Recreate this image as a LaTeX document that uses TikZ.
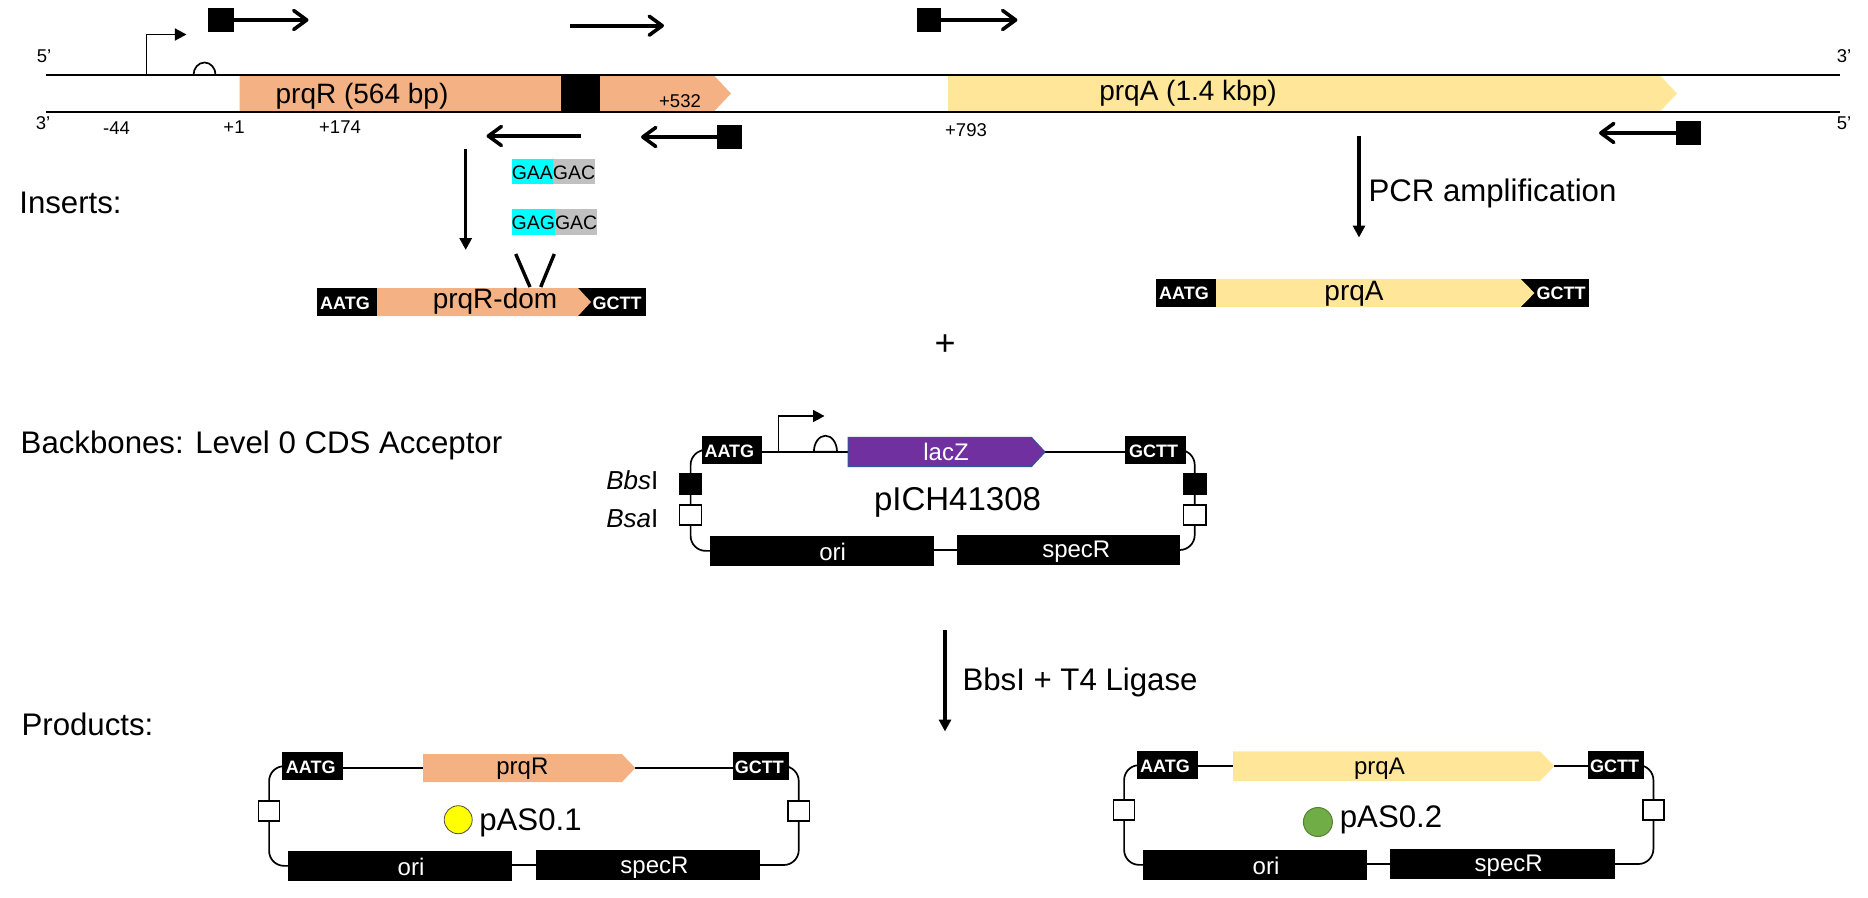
\documentclass[tikz,border=0pt]{standalone}
\usepackage{fontspec}
\setmainfont{Liberation Sans}
\usetikzlibrary{arrows.meta,backgrounds}
\newcommand\fsz[1]{\fontsize{#1}{#1}\selectfont}
\definecolor{orangeg}{HTML}{F4B183}
\definecolor{yellowg}{HTML}{FFE699}
\definecolor{purpleg}{HTML}{7030A0}
\definecolor{blueedge}{HTML}{2F5597}
\definecolor{greenc}{HTML}{70AD47}
\definecolor{greend}{HTML}{548235}
\definecolor{grayb}{HTML}{C0C0C0}
\definecolor{cyanb}{HTML}{00FFFF}
\definecolor{yellowc}{HTML}{FFFF00}
\tikzset{
  base/.style={inner sep=0pt,outer sep=0pt,text=black},
  blackbox/.style={base,fill=black},
  whitesq/.style={base,fill=white,draw=black,line width=1.5pt},
  cyanbox/.style={base,fill=cyanb},
  graybox/.style={base,fill=grayb},
  num/.style={base,font=\fsz{18.5}},
  big/.style={base,font=\fsz{31.2}},
  genetxt/.style={base,font=\fsz{28}},
  small/.style={base,font=\fsz{24}},
  wtxt/.style={base,font=\fsz{24},text=white},
  site/.style={base,font=\bfseries\fsz{18},text=white},
  strand/.style={line width=2pt},
  wire/.style={line width=1.7pt},
  wirecurve/.style={line width=1.7pt,rounded corners=15pt},
  primer/.style={line width=3.6pt,-{Straight Barb[length=13pt,width=19pt,round]}},
  flow/.style={line width=3.4pt,-{Triangle[length=12pt,width=12pt]},shorten >=-1pt},
  promo/.style={line width=1.8pt,-{Triangle[length=11.5pt,width=12pt]}},
  rbs/.style={line width=1.7pt,fill=white},
}
% name, style, x1, y1, x2, y2
\newcommand\bx[6]{\node[#2,minimum width={#5-#3},minimum height={#6-#4}] (#1) at ({(#3+#5)/2},{(#4+#6)/2}) {};}
% name, fill, x1, shoulder, tip, y1, y2, extra
\newcommand\gene[8]{%
  \path[fill=#2,#8] (#3,#6) -- (#4,#6) -- (#5,{(#6+#7)/2}) -- (#4,#7) -- (#3,#7) -- cycle;
  \coordinate (#1-w) at (#3,{(#6+#7)/2});
  \coordinate (#1-e) at (#5,{(#6+#7)/2});}
% name, x1, x2, base y, height
\newcommand\rbsmark[5]{%
  \path[rbs,draw] (#2,#4) arc[start angle=180,end angle=0,x radius={(#3-#2)/2*1pt},y radius=#5pt] -- cycle;
  \coordinate (#1) at ({(#2+#3)/2},#4);}
\begin{document}
\begin{tikzpicture}[x=1pt,y=-1pt]
\useasboundingbox (0,0) rectangle (1868,897);

% ---------- genomic region ----------
\gene{prqR}{orangeg}{239.5}{713.5}{731}{75}{112}{}
\gene{prqA}{yellowg}{948}{1659.5}{1677}{75}{112}{}
\bx{dom}{blackbox}{561}{75}{600}{112}
\coordinate (t5) at (46,75); \coordinate (t3) at (1840,75);
\coordinate (b3) at (46,112); \coordinate (b5) at (1840,112);
\draw[strand] (t5) -- (t3);
\draw[strand] (b3) -- (b5);
\node[genetxt] (lprqR) at (362,96) {prqR (564 bp)};
\node[genetxt] (lprqA) at (1188,93.5) {prqA (1.4 kbp)};
\node[num] (l5a) at (44,56) {5’};
\node[num] (l3a) at (43,123) {3’};
\node[num] (l3b) at (1844,56) {3’};
\node[num] (l5b) at (1844,123) {5’};
\node[num] (n44) at (116.5,128) {-44};
\node[num] (n1) at (234,127.5) {+1};
\node[num] (n174) at (340,127.5) {+174};
\node[num] (n532) at (680,101) {+532};
\node[num] (n793) at (966,130) {+793};

% promoter and RBS
\coordinate (p0) at (146.5,75); \coordinate (p1) at (186.4,34.5);
\draw[promo] (p0) |- (p1);
\rbsmark{rbs0}{193.5}{215.6}{75}{12.5}

% primers
\bx{s1}{blackbox}{208}{8}{233.5}{32}
\coordinate (e1) at (308.5,20); \draw[primer] (s1.east) -- (e1);
\coordinate (s2) at (570,25.7); \coordinate (e2) at (664,25.7); \draw[primer] (s2) -- (e2);
\bx{s3}{blackbox}{916.6}{8}{941}{32}
\coordinate (e3) at (1017.4,20); \draw[primer] (s3.east) -- (e3);
\coordinate (s4) at (580.7,136); \coordinate (e4) at (486.6,136); \draw[primer] (s4) -- (e4);
\bx{s5}{blackbox}{717}{125}{741.5}{149}
\coordinate (e5) at (641,137); \draw[primer] (s5.west) -- (e5);
\bx{s6}{blackbox}{1676}{121}{1700.5}{145}
\coordinate (e6) at (1599,133); \draw[primer] (s6.west) -- (e6);

% ---------- inserts ----------
\node[big] (inserts) at (70.5,203) {Inserts:};
\coordinate (d1a) at (465.7,149); \coordinate (d1b) at (465.7,249);
\draw[flow] (d1a) -- (d1b);
\coordinate (d2a) at (1359,136); \coordinate (d2b) at (1359,236.5);
\draw[flow] (d2a) -- (d2b);
\node[big] (pcr) at (1492.5,193) {PCR amplification};

\bx{c1}{cyanbox}{512}{159.3}{553}{184}
\bx{g1}{graybox}{553}{159.3}{595}{184}
\bx{c2}{cyanbox}{512}{209.3}{555}{234.7}
\bx{g2}{graybox}{555}{209.3}{597}{234.7}
\node[base,font=\fsz{19.5}] (t1) at (553.5,173) {GAAGAC};
\node[base,font=\fsz{19.5}] (t2) at (554.5,223) {GAGGAC};

\coordinate (v1a) at (515.7,254); \coordinate (v1b) at (530,287);
\coordinate (v2a) at (554.3,254); \coordinate (v2b) at (540.7,287);
\draw[line width=3.4pt] (v1a) -- (v1b);
\draw[line width=3.4pt] (v2a) -- (v2b);

\bx{ia1}{blackbox}{316.7}{288}{377.3}{316}
\bx{ig1}{blackbox}{578}{288}{645.7}{316}
\gene{idom}{orangeg}{377}{578}{591}{288}{316}{}
\node[site] (tia1) at (345,303) {AATG};
\node[site] (tig1) at (617,303) {GCTT};
\node[genetxt] (lidom) at (495,301) {prqR-dom};

\bx{ia2}{blackbox}{1156}{279}{1216}{307}
\bx{ig2}{blackbox}{1520.7}{279}{1589}{307}
\gene{iprqA}{yellowg}{1216}{1520.7}{1534.4}{279}{307}{}
\node[site] (tia2) at (1184,293.5) {AATG};
\node[site] (tig2) at (1561,293.5) {GCTT};
\node[genetxt] (liprqA) at (1354,293.7) {prqA};

\node[base,font=\fsz{36}] (plus) at (945,345) {+};

% ---------- backbone ----------
\node[big] (backbones) at (261.5,445) {Backbones: Level 0 CDS Acceptor};

\bx{A1}{blackbox}{701.6}{436}{762.4}{464}
\bx{G1}{blackbox}{1124.5}{436}{1185.7}{464}
\gene{lacZ}{purpleg}{848.2}{1031.4}{1045}{437.3}{466.7}{draw=blueedge,line width=1pt}
\bx{bbsL}{blackbox}{678.8}{473.3}{702.4}{494.7}
\bx{bsaL}{whitesq}{679.5}{505.2}{701.7}{525.2}
\bx{bbsR}{blackbox}{1182.9}{473.3}{1206.5}{494.7}
\bx{bsaR}{whitesq}{1183.6}{505.2}{1205.8}{525.2}
\bx{ori1}{blackbox}{709.8}{536}{933.5}{565.7}
\bx{spec1}{blackbox}{957}{535}{1180.4}{565}
\rbsmark{rbs1}{813.9}{837}{451.7}{16}
\coordinate (p1a) at (778.4,451.7); \coordinate (p1b) at (824.5,416);
\draw[promo] (p1a) |- (p1b);
\begin{scope}[on background layer]
  \draw[wire] (A1.east |- lacZ-w) -- (lacZ-w);
  \draw[wire] (lacZ-e) -- (G1.west |- lacZ-e);
  \draw[wire] (ori1.east |- spec1.west) -- (spec1.west);
  \draw[wirecurve] (A1.west) -| (bbsL.center) |- (ori1.west);
  \draw[wirecurve] (G1.east) -| (bbsR.center) |- (spec1.east);
\end{scope}
\node[site] (tA1) at (729.4,451.2) {AATG};
\node[site] (tG1) at (1153.5,451) {GCTT};
\node[wtxt] (tlacZ) at (946,451.7) {lacZ};
\node[wtxt] (tori1) at (832.7,552) {ori};
\node[wtxt] (tspec1) at (1076.3,552) {specR};
\node[base,font=\fsz{33}] (pich) at (957.5,502) {pICH41308};
\node[base,font=\fsz{26},anchor=east] (lbbs) at (658.4,480) {\itshape Bbs\upshape I};
\node[base,font=\fsz{26},anchor=east] (lbsa) at (658.4,518.3) {\itshape Bsa\upshape I};

\coordinate (d3a) at (945,630); \coordinate (d3b) at (945,730.5);
\draw[flow] (d3a) -- (d3b);
\node[big] (lig) at (1080,682) {BbsI + T4 Ligase};

% ---------- products ----------
\node[big] (products) at (87.5,724) {Products:};

% pAS0.1
\bx{A2}{blackbox}{282}{752.3}{343}{780}
\bx{G2}{blackbox}{733}{752.3}{789}{780}
\gene{pR}{orangeg}{423}{622}{635.3}{754}{782}{}
\bx{bsaL2}{whitesq}{258.7}{801.2}{279.5}{820.8}
\bx{bsaR2}{whitesq}{788}{801.2}{809.5}{820.8}
\bx{ori2}{blackbox}{287.8}{851}{511.7}{880.7}
\bx{spec2}{blackbox}{536.2}{850}{759.7}{880}
\begin{scope}[on background layer]
  \draw[wire] (A2.east |- pR-w) -- (pR-w);
  \draw[wire] (pR-e) -- (G2.west |- pR-e);
  \draw[wire] (ori2.east |- spec2.west) -- (spec2.west);
  \draw[wirecurve] (A2.west) -| (bsaL2.center) |- (ori2.west);
  \draw[wirecurve] (G2.east) -| (bsaR2.center) |- (spec2.east);
\end{scope}
\node[site] (tA2) at (310.8,767) {AATG};
\node[site] (tG2) at (759.3,767) {GCTT};
\node[small] (tpR) at (522.4,769) {prqR};
\node[wtxt] (tori2) at (411,867) {ori};
\node[wtxt] (tspec2) at (654.5,867.5) {specR};
\node[base,circle,fill=yellowc,draw=black!70,line width=0.8pt,minimum size=28pt] (dot1) at (458.2,819.7) {};
\node[big] (pas1) at (530.5,822.5) {pAS0.1};

% pAS0.2
\bx{A3}{blackbox}{1137}{751.3}{1197.6}{779}
\bx{G3}{blackbox}{1588}{751.3}{1643.8}{779}
\gene{pA}{yellowg}{1233.2}{1540}{1554.3}{751.3}{781}{}
\bx{bsaL3}{whitesq}{1113.7}{799.8}{1134.5}{819.8}
\bx{bsaR3}{whitesq}{1643}{799.8}{1663.8}{819.8}
\bx{ori3}{blackbox}{1142.9}{850}{1366.7}{879.7}
\bx{spec3}{blackbox}{1390}{849}{1614.7}{879}
\begin{scope}[on background layer]
  \draw[wire] (A3.east |- pA-w) -- (pA-w);
  \draw[wire] (pA-e) -- (G3.west |- pA-e);
  \draw[wire] (ori3.east |- spec3.west) -- (spec3.west);
  \draw[wirecurve] (A3.west) -| (bsaL3.center) |- (ori3.west);
  \draw[wirecurve] (G3.east) -| (bsaR3.center) |- (spec3.east);
\end{scope}
\node[site] (tA3) at (1165,766) {AATG};
\node[site] (tG3) at (1614.7,766) {GCTT};
\node[small] (tpA) at (1379.4,768.5) {prqA};
\node[wtxt] (tori3) at (1266,866) {ori};
\node[wtxt] (tspec3) at (1508.7,866) {specR};
\node[base,circle,fill=greenc,draw=greend,line width=1pt,minimum size=29pt] (dot2) at (1317.9,822) {};
\node[big] (pas2) at (1391,820) {pAS0.2};
\end{tikzpicture}
\end{document}
